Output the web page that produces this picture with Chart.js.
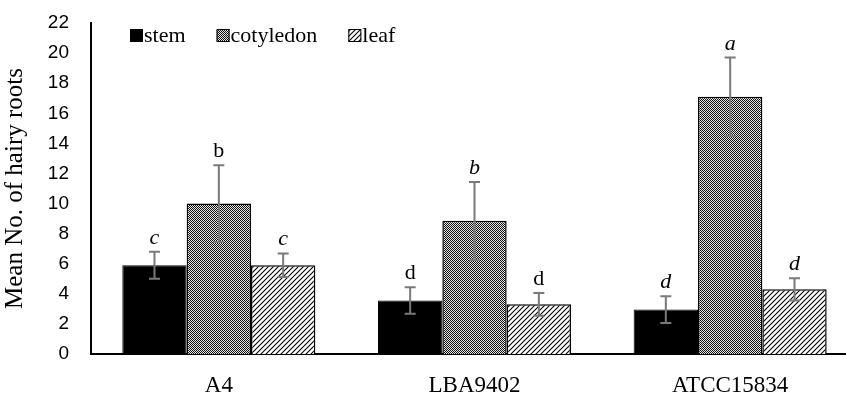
<!DOCTYPE html>
<html>
<head>
<meta charset="utf-8">
<script src="https://cdn.jsdelivr.net/npm/chart.js@4.4.0/dist/chart.umd.min.js"></script>
<style>
  html, body { margin: 0; padding: 0; background: #fff; overflow: hidden; }
  #wrap { width: 860px; height: 397px; position: relative; }
</style>
</head>
<body>
<div id="wrap"><canvas id="myChart1"></canvas></div>
<script>
// data
var categories = ['A4', 'LBA9402', 'ATCC15834'];
var seriesNames = ['stem', 'cotyledon', 'leaf'];

var stem = [5.9, 3.55, 2.95];
var stemErr = [0.9, 0.88, 0.89];
var cotyledon = [10.0, 8.85, 17.1];
var cotyledonErr = [2.55, 2.58, 2.6];
var leaf = [5.9, 3.3, 4.3];
var leafErr = [0.78, 0.76, 0.74];

var stemLetters = ['c', 'd', 'd'];
var cotyledonLetters = ['b', 'b', 'a'];
var leafLetters = ['c', 'd', 'd'];
var stemItalic = [true, false, true];
var cotyledonItalic = [false, true, true];
var leafItalic = [true, false, true];

var yTicks = [0, 2, 4, 6, 8, 10, 12, 14, 16, 18, 20, 22];

// fill patterns
function checkerPattern() {
  var c = document.createElement('canvas');
  c.width = 2; c.height = 2;
  var g = c.getContext('2d');
  g.fillStyle = '#e4e4e4';
  g.fillRect(0, 0, 2, 2);
  g.fillStyle = '#111';
  g.fillRect(0, 0, 1, 1);
  g.fillRect(1, 1, 1, 1);
  return g.createPattern(c, 'repeat');
}
function hatchPattern() {
  var s = 5;
  var c = document.createElement('canvas');
  c.width = s; c.height = s;
  var g = c.getContext('2d');
  g.fillStyle = '#fff';
  g.fillRect(0, 0, s, s);
  g.strokeStyle = '#000';
  g.lineWidth = 1.1;
  g.beginPath();
  g.moveTo(-1, s + 1); g.lineTo(s + 1, -1);
  g.moveTo(-1, 1); g.lineTo(1, -1);
  g.moveTo(s - 1, s + 1); g.lineTo(s + 1, s - 1);
  g.stroke();
  return g.createPattern(c, 'repeat');
}
var cotFill = checkerPattern();
var leafFill = hatchPattern();

// error bars + letters
var errorBars = {
  id: 'errorBars',
  afterDatasetsDraw: function(chart) {
    var ctx = chart.ctx;
    var y = chart.scales.y;
    chart.data.datasets.forEach(function(ds, di) {
      var meta = chart.getDatasetMeta(di);
      meta.data.forEach(function(bar, i) {
        var v = ds.data[i], e = ds.err[i];
        var yTop = y.getPixelForValue(v + e);
        var yBot = y.getPixelForValue(v - e);
        ctx.save();
        ctx.strokeStyle = '#7a7a7a';
        ctx.lineWidth = 2;
        ctx.beginPath();
        ctx.moveTo(bar.x, yTop); ctx.lineTo(bar.x, yBot);
        ctx.moveTo(bar.x - 5.5, yTop); ctx.lineTo(bar.x + 5.5, yTop);
        ctx.moveTo(bar.x - 5.5, yBot); ctx.lineTo(bar.x + 5.5, yBot);
        ctx.stroke();
        ctx.fillStyle = '#000';
        ctx.font = (ds.italic[i] ? 'italic ' : '') + '22px "Liberation Serif"';
        ctx.textAlign = 'center';
        ctx.textBaseline = 'alphabetic';
        ctx.fillText(ds.letters[i], bar.x, yTop - 8);
        ctx.restore();
      });
    });
  }
};

// legend drawn inside the plot area
var innerLegend = {
  id: 'innerLegend',
  afterDraw: function(chart) {
    var ctx = chart.ctx;
    var area = chart.chartArea;
    var x = area.left + 39;
    var yBox = area.top + 6;
    ctx.save();
    ctx.font = '22px "Liberation Serif"';
    ctx.textBaseline = 'middle';
    ctx.textAlign = 'left';
    chart.data.datasets.forEach(function(ds) {
      ctx.fillStyle = ds.backgroundColor;
      ctx.fillRect(x, yBox, 13, 13);
      ctx.strokeStyle = '#000';
      ctx.lineWidth = 1;
      ctx.strokeRect(x + 0.5, yBox + 0.5, 12, 12);
      ctx.fillStyle = '#000';
      ctx.fillText(ds.label, x + 14, yBox + 7);
      x += 14 + ctx.measureText(ds.label).width + 31;
    });
    ctx.restore();
  }
};

var ctx = document.getElementById('myChart1').getContext('2d');
var chart = new Chart(ctx, {
  type: 'bar',
  data: {
    labels: categories,
    datasets: [{
      label: seriesNames[0],
      data: stem,
      err: stemErr,
      letters: stemLetters,
      italic: stemItalic,
      backgroundColor: '#000',
      borderColor: '#000',
      borderWidth: 1
    }, {
      label: seriesNames[1],
      data: cotyledon,
      err: cotyledonErr,
      letters: cotyledonLetters,
      italic: cotyledonItalic,
      backgroundColor: cotFill,
      borderColor: '#000',
      borderWidth: 1.5
    }, {
      label: seriesNames[2],
      data: leaf,
      err: leafErr,
      letters: leafLetters,
      italic: leafItalic,
      backgroundColor: leafFill,
      borderColor: '#000',
      borderWidth: 1.5
    }]
  },
  plugins: [errorBars, innerLegend],
  options: {
    responsive: true,
    maintainAspectRatio: false,
    animation: false,
    layout: { padding: { top: 23, right: 2, left: 0, bottom: 0 } },
    plugins: {
      legend: { display: false },
      tooltip: { enabled: false }
    },
    datasets: {
      bar: { categoryPercentage: 0.755, barPercentage: 1.0 }
    },
    scales: {
      x: {
        grid: { display: false, drawTicks: false },
        border: { display: true, color: '#000', width: 2 },
        ticks: {
          color: '#000',
          font: { family: 'Liberation Serif', size: 23 },
          padding: 18
        },
        afterFit: function(s) { s.height = 43; }
      },
      y: {
        min: 0,
        max: 22,
        grid: { display: false, drawTicks: false },
        border: { display: true, color: '#000', width: 2 },
        afterBuildTicks: function(s) {
          s.ticks = yTicks.map(function(v) { return { value: v }; });
        },
        ticks: {
          color: '#000',
          font: { family: 'Liberation Sans', size: 19 },
          padding: 22
        },
        title: {
          display: true,
          text: 'Mean No. of hairy roots',
          color: '#000',
          font: { family: 'Liberation Serif', size: 25 },
          padding: { top: 0, bottom: 0 }
        },
        afterFit: function(s) {
          s.width = 91;
          s.paddingTop = 0;
          s.paddingBottom = 0;
        }
      }
    }
  }
});
</script>
</body>
</html>
